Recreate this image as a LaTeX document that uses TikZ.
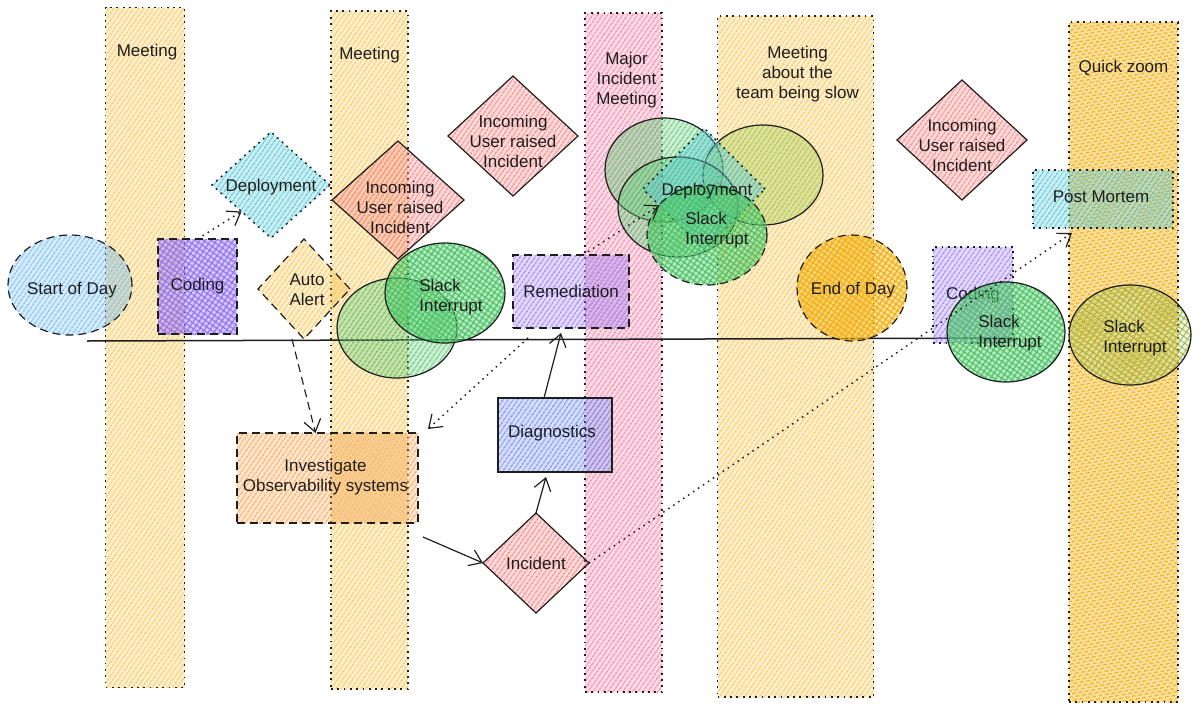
\documentclass[tikz,border=0pt]{standalone}
\usepackage{fontspec}
\setmainfont{Liberation Sans}
\usetikzlibrary{patterns.meta,shapes.geometric,arrows.meta}
\definecolor{ink}{HTML}{1E1E1E}
\definecolor{cYel}{HTML}{F7C24A}
\definecolor{cYelD}{HTML}{F4B010}
\definecolor{cPink}{HTML}{F07AA2}
\definecolor{cBlue}{HTML}{6AB6F2}
\definecolor{cPurp}{HTML}{9473F6}
\definecolor{cCyan}{HTML}{45C2D4}
\definecolor{cRed}{HTML}{F57878}
\definecolor{cOrg}{HTML}{FAA04A}
\definecolor{cGrn}{HTML}{4CC466}
\definecolor{cLime}{HTML}{9ACB4A}
\definecolor{cInd}{HTML}{6A84F2}
\definecolor{cOlive}{HTML}{9DB848}
\tikzset{
  hach/.style={preaction={fill=#1,fill opacity=0.28},pattern={Lines[angle=55,distance=4pt,line width=1.3pt]},pattern color=#1},
  xhach/.style={preaction={fill=#1,fill opacity=0.4},pattern={Hatch[angle=55,distance=4.6pt,line width=1.1pt]},pattern color=#1},
  lhach/.style={preaction={fill=#1,fill opacity=0.15},pattern={Hatch[angle=55,distance=5pt,line width=0.9pt]},pattern color=#1},
  dotb/.style={draw=ink,dash pattern=on 1.8pt off 4.5pt,line width=1.5pt},
  dashb/.style={draw=ink,dash pattern=on 8pt off 5pt,line width=1.2pt},
  solb/.style={draw=ink,line width=1.2pt},
  box/.style={rectangle,inner sep=0pt,outer sep=0pt},
  oval/.style={ellipse,inner sep=0pt,outer sep=0pt},
  dia/.style={diamond,inner sep=0pt,outer sep=0pt},
  sz/.style 2 args={minimum width=#1,minimum height=#2},
  txt/.style={font=\fontsize{17}{20}\selectfont,align=center,text=ink},
  tip/.style={-{Straight Barb[length=12pt,width=17pt,line width=1.2pt]}},
  arr/.style={draw=ink,line width=1.2pt,tip},
  darr/.style={draw=ink,line width=1.2pt,dash pattern=on 8pt off 5pt,tip},
  oarr/.style={draw=ink,line width=1.5pt,dash pattern=on 1.5pt off 4.5pt,tip},
}
\begin{document}
\begin{tikzpicture}[x=1pt,y=-1pt]
\useasboundingbox (0,0) rectangle (1200,710);
% columns
\node[box,sz={79pt}{680pt},hach=cYel,dotb,label={[txt,anchor=center,xshift=2pt,yshift=-45pt]north:Meeting}] (col1) at (145,347.5) {};
\node[box,sz={77pt}{678pt},hach=cYel,dotb,label={[txt,anchor=center,yshift=-44pt]north:Meeting}] (col2) at (369.5,350) {};
\node[box,sz={77pt}{679pt},hach=cPink,dotb,label={[txt,anchor=center,xshift=3pt,yshift=-67pt]north:{Major\\Incident\\Meeting}}] (col3) at (623.5,352.5) {};
\node[box,sz={156pt}{681pt},hach=cYel,dotb,label={[txt,anchor=center,xshift=2pt,yshift=-58pt]north:{Meeting\\about the\\team being slow}}] (col4) at (795.5,356.5) {};
\node[box,sz={109pt}{680pt},xhach=cYelD,dotb,label={[txt,anchor=center,yshift=-46pt]north:Quick zoom}] (col5) at (1123.5,362) {};
% timeline
\coordinate (tl1) at (87,341);
\coordinate (tl2) at (1012,338);
\draw[ink,line width=1.5pt] (tl1) -- (tl2);
% nodes
\node[oval,sz={124pt}{100pt},hach=cBlue,dashb,label={[txt,yshift=-5pt,xshift=2pt]center:Start of Day}] (start) at (70,285) {};
\node[box,sz={79pt}{95pt},xhach=cPurp,dashb,label={[txt]center:Coding}] (coding1) at (197.5,286.5) {};
\node[dia,sz={118pt}{106pt},hach=cCyan,dotb,label={[txt,yshift=-2pt]center:Deployment}] (deploy1) at (271,185) {};
\node[dia,sz={92pt}{100pt},hach=cYel,dashb,label={[txt,xshift=3pt,yshift=-1pt]center:{Auto\\Alert}}] (auto) at (304,289) {};
\node[dia,sz={132pt}{118pt},hach=cRed,solb,label={[txt,xshift=2pt,yshift=-7pt]center:{Incoming\\User raised\\Incident}}] (inc1) at (398,200) {};
\node[dia,sz={130pt}{120pt},hach=cRed,solb,label={[txt,yshift=-5pt]center:{Incoming\\User raised\\Incident}}] (inc2) at (513,136) {};
\node[dia,sz={130pt}{120pt},hach=cRed,solb,label={[txt,yshift=-5pt]center:{Incoming\\User raised\\Incident}}] (inc3) at (962,140) {};
\node[oval,sz={120pt}{100pt},hach=cGrn,solb] (slackA) at (397,328) {};
\node[oval,sz={120pt}{100pt},xhach=cGrn,solb,label={[txt,align=left,xshift=6pt,yshift=-4pt]center:{Slack\\Interrupt}}] (slack1) at (445,293) {};
\node[box,sz={116pt}{73pt},hach=cPurp,dashb,label={[txt]center:Remediation}] (rem) at (571,291.5) {};
\node[oval,sz={118pt}{104pt},hach=cGrn,solb] (clA) at (664,170) {};
\node[oval,sz={120pt}{100pt},hach=cLime,solb] (clB) at (763,175) {};
\node[oval,sz={120pt}{100pt},hach=cGrn,solb] (clC) at (678,207) {};
\node[dia,sz={122pt}{122pt},hach=cCyan,dotb] (deploy2) at (704,189) {};
\node[oval,sz={120pt}{100pt},xhach=cGrn,dashb] (slack2) at (707,235) {};
\node[txt] (deploy2t) at (707,191) {Deployment};
\node[txt,align=left] (slack2t) at (717,230) {Slack\\Interrupt};
\node[oval,sz={110pt}{106pt},xhach=cYelD,dashb,label={[txt,xshift=1pt,yshift=-2pt]center:End of Day}] (eod) at (852,288) {};
\node[box,sz={80pt}{96pt},hach=cPurp,dotb,label={[txt]center:Coding}] (coding2) at (973,295) {};
\node[oval,sz={118pt}{100pt},xhach=cGrn,solb,label={[txt,align=left,xshift=4pt,yshift=-1pt]center:{Slack\\Interrupt}}] (slack3) at (1006,332) {};
\node[box,sz={140pt}{58pt},hach=cCyan,dotb,label={[txt,xshift=-2pt,yshift=2pt]center:Post Mortem}] (post) at (1103,199) {};
\node[oval,sz={122pt}{100pt},lhach=cOlive,solb,label={[txt,align=left,xshift=5pt,yshift=-3pt]center:{Slack\\Interrupt}}] (slack4) at (1130,335) {};
\node[box,sz={181pt}{90pt},hach=cOrg,dashb,label={[txt,xshift=-2pt,yshift=1pt]center:{Investigate\\Observability systems}}] (invest) at (327.5,478) {};
\node[box,sz={114pt}{74pt},hach=cInd,solb,label={[txt,xshift=-3pt,yshift=2pt]center:Diagnostics}] (diag) at (555,435) {};
\node[dia,sz={106pt}{100pt},hach=cRed,solb,label={[txt]center:Incident}] (incident) at (536,563) {};
% connectors
\draw[oarr] (coding1.north) -- (deploy1.south west);
\draw[darr] ([xshift=-12pt]auto.south) -- ([xshift=-12pt]invest.north);
\draw[oarr] ([xshift=15pt,yshift=-10pt]rem.south west) -- ([xshift=10pt,yshift=4pt]invest.north east);
\draw[oarr] ([xshift=-46pt]rem.north east) -- (deploy2.200);
\draw[arr] ([xshift=-11pt]diag.north) -- ([xshift=-10pt,yshift=-5pt]rem.south);
\draw[arr] (incident.north) -- ([xshift=-9pt,yshift=-5pt]diag.south);
\draw[arr] ([xshift=5pt,yshift=-14pt]invest.south east) -- (incident.west);
\draw[oarr] (incident.east) -- ([xshift=39pt,yshift=-5pt]post.south west);
\end{tikzpicture}
\end{document}
